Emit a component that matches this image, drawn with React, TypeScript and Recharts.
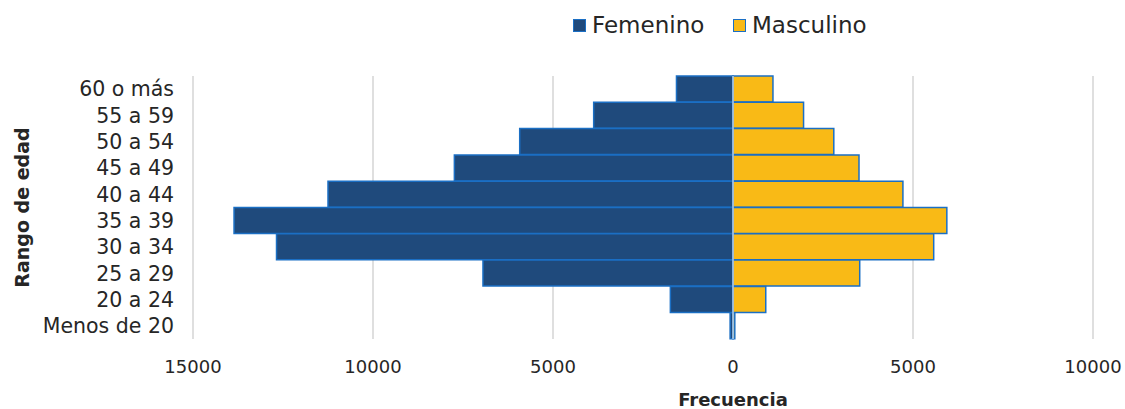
import { Bar, BarChart, CartesianGrid, Label, ReferenceLine, XAxis, YAxis } from "recharts";

const AGE_GROUPS = [
  "60 o más",
  "55 a 59",
  "50 a 54",
  "45 a 49",
  "40 a 44",
  "35 a 39",
  "30 a 34",
  "25 a 29",
  "20 a 24",
  "Menos de 20",
];
const FEMENINO = [1570, 3870, 5925, 7740, 11250, 13860, 12680, 6945, 1740, 80];
const MASCULINO = [1110, 1960, 2800, 3500, 4720, 5940, 5575, 3520, 910, 50];
const X_TICKS = [-15000, -10000, -5000, 0, 5000, 10000];

const FONT = "'DejaVu Sans', sans-serif";
const TEXT = "#262626";
const F_FILL = "#1F4A7C";
const M_FILL = "#F9BA16";
const EDGE = "#1B6FC4";

// drop the default body margin so the chart fills the window exactly
document.body.style.margin = "0";

const data = AGE_GROUPS.map((age, i) => ({
  age,
  femenino: -FEMENINO[i],
  masculino: MASCULINO[i],
}));

const YTitle = (props: any) => {
  const { viewBox } = props;
  const cy = viewBox.y + viewBox.height / 2;
  return (
    <text
      x={22}
      y={cy}
      transform={`rotate(-90 22 ${cy})`}
      textAnchor="middle"
      dominantBaseline="central"
      fontFamily={FONT}
      fontWeight="bold"
      fontSize={19}
      fill={TEXT}
    >
      Rango de edad
    </text>
  );
};

const XTitle = () => (
  <text
    x={733}
    y={399}
    textAnchor="middle"
    dominantBaseline="central"
    fontFamily={FONT}
    fontWeight="bold"
    fontSize={18}
    fill={TEXT}
  >
    Frecuencia
  </text>
);

function LegendItem({ color, label, left }: { color: string; label: string; left: number }) {
  return (
    <div style={{ position: "absolute", left, top: 12, display: "flex", alignItems: "center" }}>
      <span
        style={{
          width: 11,
          height: 11,
          background: color,
          border: `1.5px solid ${EDGE}`,
          marginRight: 6,
        }}
      />
      <span style={{ fontSize: 23, color: TEXT, fontFamily: FONT, lineHeight: "26px" }}>{label}</span>
    </div>
  );
}

export default function App() {
  return (
    <div style={{ position: "relative", width: 1125, height: 409, background: "#fff" }}>
      <BarChart
        width={1125}
        height={409}
        data={data}
        layout="vertical"
        stackOffset="sign"
        barCategoryGap={0}
        margin={{ top: 76, right: 32, bottom: 30, left: 10 }}
      >
        <CartesianGrid horizontal={false} stroke="#d4d4d4" strokeWidth={1.5} />
        <XAxis
          type="number"
          domain={[-15000, 10000]}
          ticks={X_TICKS}
          tickFormatter={(v: number) => String(Math.abs(v))}
          axisLine={false}
          tickLine={false}
          tickMargin={15}
          height={40}
          tick={{ fill: TEXT, fontSize: 18, fontFamily: FONT }}
          label={<Label content={XTitle} />}
        />
        <YAxis
          type="category"
          dataKey="age"
          width={183}
          axisLine={false}
          tickLine={false}
          tickMargin={13}
          interval={0}
          tick={{ fill: TEXT, fontSize: 20.5, fontFamily: FONT }}
          label={<Label content={YTitle} />}
        />
        <Bar
          dataKey="femenino"
          name="Femenino"
          stackId="a"
          fill={F_FILL}
          stroke={EDGE}
          strokeWidth={1.5}
          isAnimationActive={false}
        />
        <Bar
          dataKey="masculino"
          name="Masculino"
          stackId="a"
          fill={M_FILL}
          stroke={EDGE}
          strokeWidth={1.5}
          isAnimationActive={false}
        />
        <ReferenceLine x={0} stroke="#ffffff" strokeWidth={1} />
      </BarChart>
      <LegendItem color={F_FILL} label="Femenino" left={573} />
      <LegendItem color={M_FILL} label="Masculino" left={733} />
    </div>
  );
}
